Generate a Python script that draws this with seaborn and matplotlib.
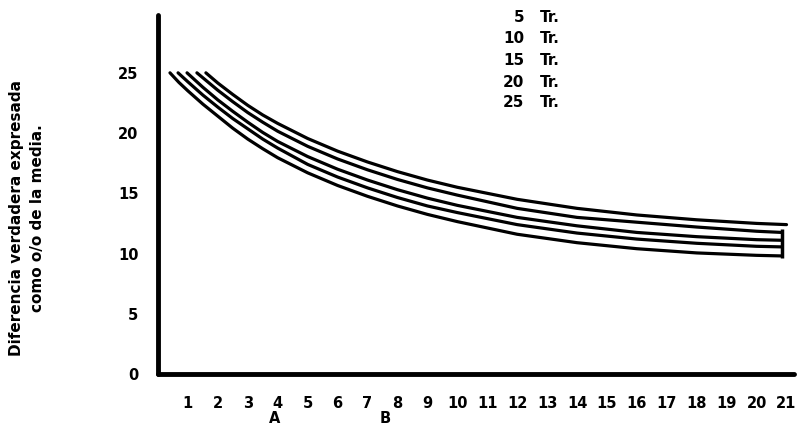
import numpy as np
import pandas as pd
import matplotlib
matplotlib.use("Agg")
import matplotlib.pyplot as plt
import seaborn as sns

# =====================
# data
# x = repeticiones, y = diferencia verdadera (% de la media)
# =====================
x_25 = [1.6, 2, 2.5, 3, 3.5, 4, 5, 6, 7, 8, 9, 10, 12, 14, 16, 18, 20, 21]
y_25 = [25.0, 24.15, 23.2, 22.3, 21.5, 20.8, 19.55, 18.5, 17.6, 16.8, 16.1, 15.5, 14.5, 13.75, 13.2, 12.8, 12.5, 12.4]

x_20 = [1.3, 2, 2.5, 3, 3.5, 4, 5, 6, 7, 8, 9, 10, 12, 14, 16, 18, 20, 20.85]
y_20 = [25.0, 23.55, 22.6, 21.7, 20.9, 20.15, 18.9, 17.85, 16.95, 16.15, 15.45, 14.85, 13.75, 13.0, 12.6, 12.2, 11.85, 11.75]

x_15 = [0.97, 1.5, 2, 2.5, 3, 3.5, 4, 5, 6, 7, 8, 9, 10, 12, 14, 16, 18, 20, 20.85]
y_15 = [25.0, 23.8, 22.75, 21.8, 20.9, 20.05, 19.3, 18.05, 17.0, 16.1, 15.3, 14.6, 14.0, 13.0, 12.3, 11.75, 11.4, 11.15, 11.1]

x_10 = [0.67, 1, 1.5, 2, 2.5, 3, 3.5, 4, 5, 6, 7, 8, 9, 10, 12, 14, 16, 18, 20, 20.85]
y_10 = [25.0, 24.25, 23.15, 22.15, 21.2, 20.35, 19.5, 18.75, 17.4, 16.35, 15.45, 14.65, 13.95, 13.4, 12.4, 11.7, 11.2, 10.85, 10.6, 10.55]

x_5 = [0.4, 0.7, 1, 1.5, 2, 2.5, 3, 3.5, 4, 5, 6, 7, 8, 9, 10, 12, 14, 16, 18, 20, 20.85]
y_5 = [25.0, 24.2, 23.5, 22.4, 21.4, 20.4, 19.5, 18.7, 17.95, 16.7, 15.65, 14.75, 13.95, 13.25, 12.65, 11.6, 10.9, 10.4, 10.05, 9.85, 9.8]

# bar at the end of the curves
bar_x = [20.85]
bar_lo = [9.6]
bar_hi = [12.0]

legend_nums = ["5", "10", "15", "20", "25"]
x_ticks = list(range(1, 22))
y_ticks = [0, 5, 10, 15, 20, 25]
ab_labels = ["A", "B"]
ab_pos = [3.9, 7.6]

ylabel = "Diferencia verdadera expresada\ncomo o/o de la media."

# long table for seaborn
series = {"5": (x_5, y_5), "10": (x_10, y_10), "15": (x_15, y_15),
          "20": (x_20, y_20), "25": (x_25, y_25)}
rows = []
for name, (xs, ys) in series.items():
    for xv, yv in zip(xs, ys):
        rows.append({"tr": name, "rep": xv, "dif": yv})
df = pd.DataFrame(rows)

# =====================
# plot
# =====================
sns.set_theme(style="white")
plt.rcParams["font.family"] = ["DejaVu Sans"]
plt.rcParams["text.color"] = "black"
plt.rcParams["axes.labelcolor"] = "black"

fig = plt.figure(figsize=(7.99, 4.30), dpi=100)
ax = fig.add_axes([158 / 799, 56 / 430, 636 / 799, 359 / 430])

sns.lineplot(data=df, x="rep", y="dif", hue="tr", units="tr",
             palette=["black"] * 5, estimator=None, sort=False,
             legend=False, linewidth=2.3, ax=ax)
ax.vlines(bar_x, bar_lo, bar_hi, color="black", linewidth=2.5)

ax.set_xlim(0, 21.25)
ax.set_ylim(0, 29.8)
ax.set_xticks(x_ticks)
ax.set_yticks(y_ticks)
ax.set_xticklabels([str(t) for t in x_ticks], fontweight="bold", fontsize=10.5)
ax.set_yticklabels([str(t) for t in y_ticks], fontweight="bold", fontsize=10.5)
ax.tick_params(axis="x", direction="in", length=4, width=2.5, pad=16,
               colors="black", labelcolor="black")
ax.tick_params(axis="y", direction="in", length=4, width=2.5, pad=14,
               colors="black", labelcolor="black")
ax.set_xlabel("")

for s in ["top", "right"]:
    ax.spines[s].set_visible(False)
for s in ["left", "bottom"]:
    ax.spines[s].set_linewidth(3.5)
    ax.spines[s].set_color("black")
    ax.spines[s].set_capstyle("round")

ax.set_ylabel(ylabel, fontweight="bold", fontsize=11, linespacing=1.5, color="black")
ax.yaxis.set_label_coords(-0.178, 0.435)

# A / B under the axis
for lab, xp in zip(ab_labels, ab_pos):
    ax.text(xp, -0.125, lab, transform=ax.get_xaxis_transform(),
            ha="center", va="center", fontweight="bold", fontsize=10.5, color="black")

# legend as plain text
leg_y = [0.992, 0.934, 0.874, 0.813, 0.757]
for lab, yy in zip(legend_nums, leg_y):
    ax.text(0.576, yy, lab, transform=ax.transAxes, ha="right", va="center",
            fontweight="bold", fontsize=11, color="black")
    ax.text(0.601, yy, "Tr.", transform=ax.transAxes, ha="left", va="center",
            fontweight="bold", fontsize=11, color="black")

fig.savefig("out.png", dpi=100, facecolor="white")
